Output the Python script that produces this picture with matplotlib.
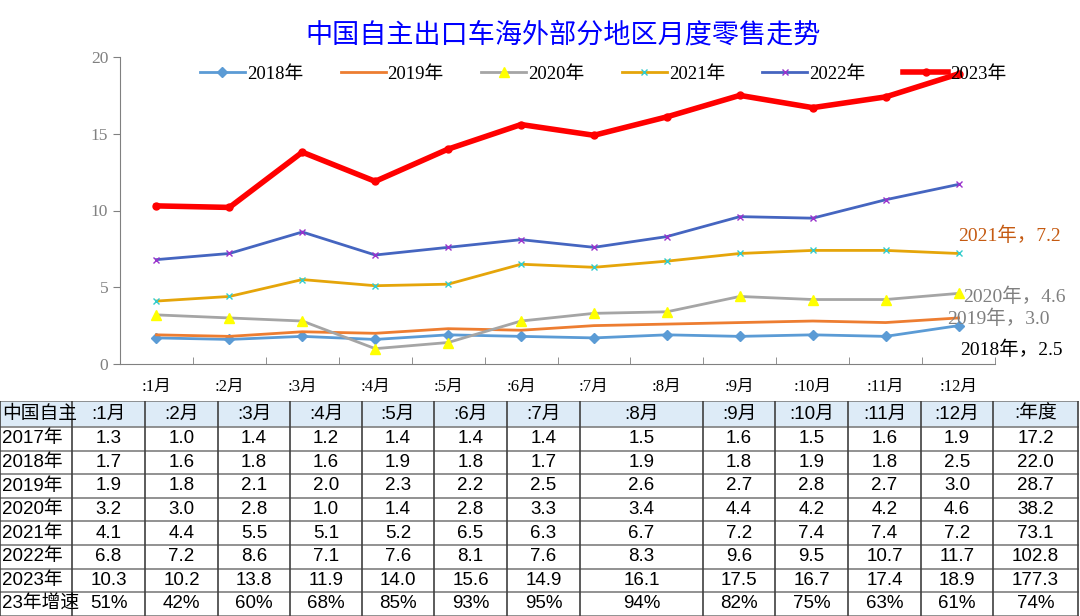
import matplotlib.pyplot as plt
from matplotlib.patches import Rectangle
import numpy as np

#=================
# data
#=================
months = [":1月", ":2月", ":3月", ":4月", ":5月", ":6月",
          ":7月", ":8月", ":9月", ":10月", ":11月", ":12月"]
row_names = ["2017年", "2018年", "2019年", "2020年", "2021年", "2022年", "2023年"]

y2017 = [1.3, 1.0, 1.4, 1.2, 1.4, 1.4, 1.4, 1.5, 1.6, 1.5, 1.6, 1.9]
y2018 = [1.7, 1.6, 1.8, 1.6, 1.9, 1.8, 1.7, 1.9, 1.8, 1.9, 1.8, 2.5]
y2019 = [1.9, 1.8, 2.1, 2.0, 2.3, 2.2, 2.5, 2.6, 2.7, 2.8, 2.7, 3.0]
y2020 = [3.2, 3.0, 2.8, 1.0, 1.4, 2.8, 3.3, 3.4, 4.4, 4.2, 4.2, 4.6]
y2021 = [4.1, 4.4, 5.5, 5.1, 5.2, 6.5, 6.3, 6.7, 7.2, 7.4, 7.4, 7.2]
y2022 = [6.8, 7.2, 8.6, 7.1, 7.6, 8.1, 7.6, 8.3, 9.6, 9.5, 10.7, 11.7]
y2023 = [10.3, 10.2, 13.8, 11.9, 14.0, 15.6, 14.9, 16.1, 17.5, 16.7, 17.4, 18.9]
annual = [17.2, 22.0, 28.7, 38.2, 73.1, 102.8, 177.3]
growth_23 = ["51%", "42%", "60%", "68%", "85%", "93%", "95%",
             "94%", "82%", "75%", "63%", "61%", "74%"]

W, H = 1080, 616
fig = plt.figure(figsize=(W / 100, H / 100), dpi=100)

serif = ["Liberation Serif", "Noto Sans CJK SC"]
sans = ["Liberation Sans", "Noto Sans CJK SC"]

#=================
# line chart
#=================
ax = fig.add_axes([120 / W, (H - 364) / H, (995 - 120) / W, (364 - 57) / H])
x = np.arange(len(months))

ax.plot(x, y2018, color="#5B9BD5", lw=2, marker="D", ms=5.5, label="2018年")
ax.plot(x, y2019, color="#ED7D31", lw=2, label="2019年")
ax.plot(x, y2020, color="#A5A5A5", lw=2, marker="^", ms=7,
        mfc="#FFFF00", mec="#FFFF00", label="2020年")
ax.plot(x, y2021, color="#E5A50A", lw=2, marker="x", ms=5,
        mec="#33CCCC", mew=1, label="2021年")
ax.plot(x, y2022, color="#4565C0", lw=2, marker="x", ms=5,
        mec="#9933CC", mew=1, label="2022年")
ax.plot(x, y2023, color="#FF0000", lw=4, marker="o", ms=5, label="2023年")

ax.set_xlim(-0.5, 11.5)
ax.set_ylim(0, 20)
ax.set_yticks([0, 5, 10, 15, 20])
ax.set_xticks(x)
ax.set_xticklabels(months, family=serif, fontsize=12)
ax.set_xticks(np.arange(-0.5, 12, 1), minor=True)
ax.tick_params(axis="x", which="major", length=0, pad=11)
ax.tick_params(axis="x", which="minor", length=5, direction="in", color="#808080")
ax.tick_params(axis="y", length=5, color="#808080", labelcolor="#808080", labelsize=12.5)
for lab in ax.get_yticklabels():
    lab.set_family(serif)
for s in ["top", "right"]:
    ax.spines[s].set_visible(False)
for s in ["left", "bottom"]:
    ax.spines[s].set_color("#808080")

# end labels
ax.annotate("2021年，7.2", (11, y2021[-1]), xytext=(0, 9), textcoords="offset points",
            color="#C55A11", fontsize=14, family=serif, ha="left")
ax.annotate("2020年，4.6", (11, y2020[-1]), xytext=(3, -6), textcoords="offset points",
            color="#7F7F7F", fontsize=14, family=serif, ha="left")
ax.annotate("2019年，3.0", (11, y2019[-1]), xytext=(-8, -4), textcoords="offset points",
            color="#7F7F7F", fontsize=14, family=serif, ha="left")
ax.annotate("2018年，2.5", (11, y2018[-1]), xytext=(1, -21), textcoords="offset points",
            color="black", fontsize=14, family=serif, ha="left")

fig.legend(loc="center", bbox_to_anchor=(603 / W, 1 - 74 / H), ncol=6,
           frameon=False, handlelength=2.4, columnspacing=2.0, handletextpad=0.1,
           prop={"family": serif, "size": 13.5})

fig.text(563 / W, 1 - 35 / H, "中国自主出口车海外部分地区月度零售走势",
         color="#0000FF", fontsize=19.5, family=sans, ha="center", va="center")

#=================
# table
#=================
tab = fig.add_axes([0, 0, 1, (616 - 401) / H])
tab.set_xlim(0, W)
tab.set_ylim(616, 401)
tab.axis("off")

col_edges = [0, 72, 145, 218, 290, 362, 434, 507, 580, 703, 775, 848, 921, 993, 1078]
row_edges = [401, 427] + [427 + 23.6 * (i + 1) for i in range(8)]

header = ["中国自主"] + months + [":年度"]
rows = []
for name, vals, tot in zip(row_names, [y2017, y2018, y2019, y2020, y2021, y2022, y2023], annual):
    rows.append([name] + ["%.1f" % v for v in vals] + ["%.1f" % tot])
rows.append(["23年增速"] + growth_23)
all_rows = [header] + rows

tab.add_patch(Rectangle((col_edges[0], row_edges[0]), col_edges[-1], row_edges[1] - row_edges[0],
                        facecolor="#DDEBF7", edgecolor="none"))

for r, cells in enumerate(all_rows):
    top, bot = row_edges[r], row_edges[r + 1]
    yc = (top + bot) / 2
    for c, txt in enumerate(cells):
        left, right = col_edges[c], col_edges[c + 1]
        if c == 0:
            t = tab.text(left + 2, yc, txt, ha="left", va="center", fontsize=13.5,
                         family=sans, color="black")
            clip = Rectangle((left, top), right - left, bot - top,
                             transform=tab.transData, facecolor="none", edgecolor="none")
            t.set_clip_path(clip)
        else:
            tab.text((left + right) / 2, yc, txt, ha="center", va="center",
                     fontsize=13.5, family=sans, color="black")

for yv in row_edges:
    tab.plot([col_edges[0], col_edges[-1]], [yv, yv], color="#7F7F7F", lw=1.2)
for xv in col_edges:
    tab.plot([xv, xv], [row_edges[0], row_edges[-1]], color="#404040", lw=1.2)

plt.savefig("out.png", dpi=100)
plt.close()
